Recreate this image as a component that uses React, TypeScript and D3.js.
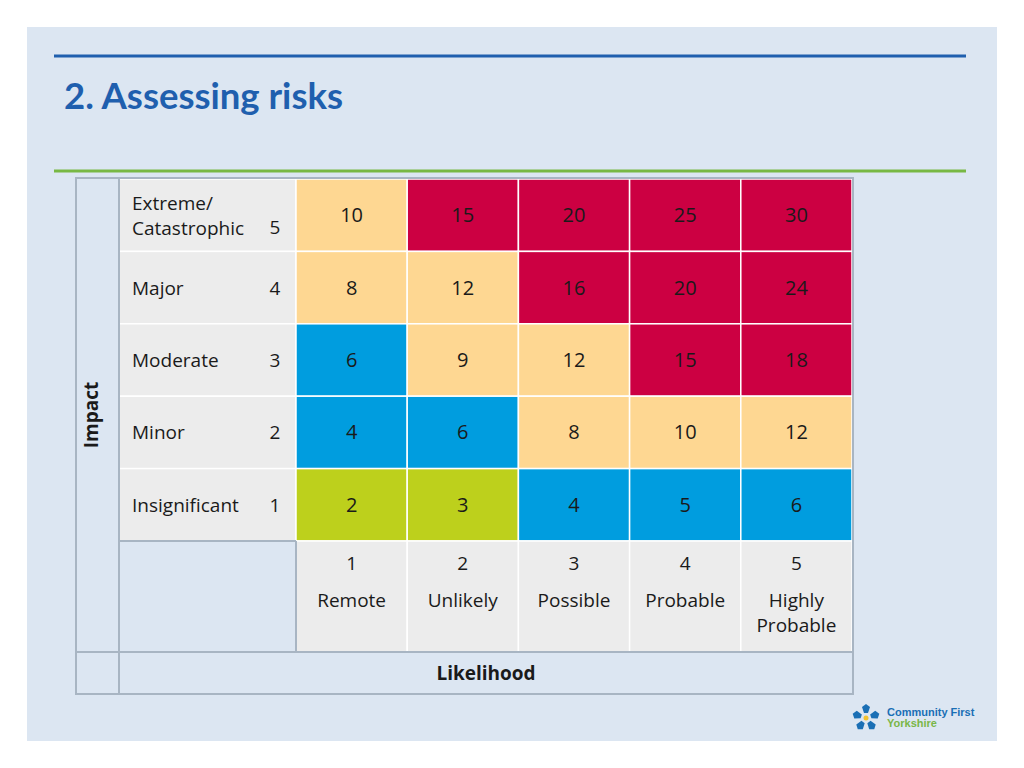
import React from "react";
import * as d3 from "d3";

const impactLevels = [5, 4, 3, 2, 1];
const impactLabels = [["Extreme/", "Catastrophic"], ["Major"], ["Moderate"], ["Minor"], ["Insignificant"]];
const likelihoodLevels = [1, 2, 3, 4, 5];
const likelihoodLabels = [["Remote"], ["Unlikely"], ["Possible"], ["Probable"], ["Highly", "Probable"]];
const scores = [
  [10, 15, 20, 25, 30],
  [8, 12, 16, 20, 24],
  [6, 9, 12, 15, 18],
  [4, 6, 8, 10, 12],
  [2, 3, 4, 5, 6],
];
const riskThresholds = [4, 7, 15];
const riskColors = ["#bdd01c", "#009ddf", "#fed792", "#cc0042"];
const title = "2. Assessing risks";
const xTitle = "Likelihood";
const yTitle = "Impact";

const FONT = "'Open Sans', 'Noto Sans', sans-serif";

export default function App() {
  const W = 1024, H = 768;
  const x = d3.scaleBand<number>().domain(likelihoodLevels).range([296, 852]);
  const y = d3.scaleBand<number>().domain(impactLevels).range([179, 541]);
  const color = d3.scaleThreshold<number, string>().domain(riskThresholds).range(riskColors);
  const tableL = 76, tableR = 853, tableT = 178, tableB = 694;
  const impactR = 119, labelR = 296, gridB = 541, likeB = 652;
  const border = "#a8b5c3";
  const bg = "#dce6f2";
  const grey = "#ececec";

  return (
    <svg width={W} height={H} style={{ position: "absolute", left: 0, top: 0 }}>
      <rect x={0} y={0} width={W} height={H} fill="#ffffff" />
      <rect x={27} y={27} width={970} height={714} fill={bg} />
      <line x1={54} x2={966} y1={56} y2={56} stroke="#1f5fae" strokeWidth={3} />
      <text x={64} y={109} fontFamily="Lato, 'Open Sans', sans-serif" fontWeight={700} fontSize={36.5} fill="#1f5fae">{title}</text>
      <line x1={54} x2={966} y1={171} y2={171} stroke="#78b844" strokeWidth={3} />

      {/* impact label column */}
      {impactLevels.map((lv, i) => (
        <g key={"lab" + lv}>
          <rect x={impactR} y={y(lv)!} width={labelR - impactR} height={y.bandwidth()} fill={grey} stroke="#ffffff" strokeWidth={1.5} />
          {impactLabels[i].map((t, j) => (
            <text key={j} x={132} y={y(lv)! + y.bandwidth() / 2 + 7 + (j - (impactLabels[i].length - 1) / 2) * 25}
              fontFamily={FONT} fontSize={19} fill="#1a1a1a">{t}</text>
          ))}
          <text x={275} y={y(lv)! + y.bandwidth() / 2 + 7 + (impactLabels[i].length > 1 ? 12 : 0)} textAnchor="middle"
            fontFamily={FONT} fontSize={19} fill="#1a1a1a">{lv}</text>
        </g>
      ))}

      {/* risk cells */}
      {impactLevels.map((lv, i) =>
        likelihoodLevels.map((lk, j) => (
          <g key={lv + "-" + lk}>
            <rect x={x(lk)!} y={y(lv)!} width={x.bandwidth()} height={y.bandwidth()} fill={color(scores[i][j])} stroke="#ffffff" strokeWidth={1.5} />
            <text x={x(lk)! + x.bandwidth() / 2} y={y(lv)! + y.bandwidth() / 2 + 7} textAnchor="middle"
              fontFamily={FONT} fontSize={20} fill="#1a1a1a">{scores[i][j]}</text>
          </g>
        ))
      )}

      {/* likelihood labels */}
      {likelihoodLevels.map((lk, j) => (
        <g key={"lk" + lk}>
          <rect x={x(lk)!} y={gridB} width={x.bandwidth()} height={likeB - gridB} fill={grey} stroke="#ffffff" strokeWidth={1.5} />
          <text x={x(lk)! + x.bandwidth() / 2} y={570} textAnchor="middle" fontFamily={FONT} fontSize={19} fill="#1a1a1a">{lk}</text>
          {likelihoodLabels[j].map((t, k) => (
            <text key={k} x={x(lk)! + x.bandwidth() / 2} y={607 + k * 25} textAnchor="middle" fontFamily={FONT} fontSize={19} fill="#1a1a1a">{t}</text>
          ))}
        </g>
      ))}

      {/* borders */}
      <rect x={tableL} y={tableT} width={tableR - tableL} height={tableB - tableT} fill="none" stroke={border} strokeWidth={2} />
      <line x1={impactR} x2={impactR} y1={tableT} y2={tableB} stroke={border} strokeWidth={2} />
      <line x1={tableL} x2={tableR} y1={likeB} y2={likeB} stroke={border} strokeWidth={2} />
      <line x1={impactR} x2={labelR} y1={gridB} y2={gridB} stroke={border} strokeWidth={2} />
      <line x1={labelR} x2={labelR} y1={gridB} y2={likeB} stroke={border} strokeWidth={2} />

      <text transform={`translate(98,${(tableT + likeB) / 2}) rotate(-90)`} textAnchor="middle" fontFamily={FONT} fontWeight={700} fontSize={19} fill="#1a1a1a">{yTitle}</text>
      <text x={(impactR + tableR) / 2} y={680} textAnchor="middle" fontFamily={FONT} fontWeight={700} fontSize={19} fill="#1a1a1a">{xTitle}</text>

      {/* logo */}
      <g transform="translate(866,718)">
        {d3.range(5).map((k) => {
          const a = (k * 72 - 90) * Math.PI / 180;
          return <path key={k} transform={`translate(${Math.cos(a) * 8},${Math.sin(a) * 8}) rotate(${k * 72})`} d="M-4,-3 L0,-6 L4,-3 L2,3 L-2,3 Z" fill="#1a6fb5" />;
        })}
        <circle r={2.5} fill="#f2c230" />
      </g>
      <text x={887} y={716} fontFamily="Arial, 'Liberation Sans', sans-serif" fontWeight={700} fontSize={11} fill="#1a6fb5">Community First</text>
      <text x={887} y={727} fontFamily="Arial, 'Liberation Sans', sans-serif" fontWeight={700} fontSize={11} fill="#7ab648">Yorkshire</text>
    </svg>
  );
}
